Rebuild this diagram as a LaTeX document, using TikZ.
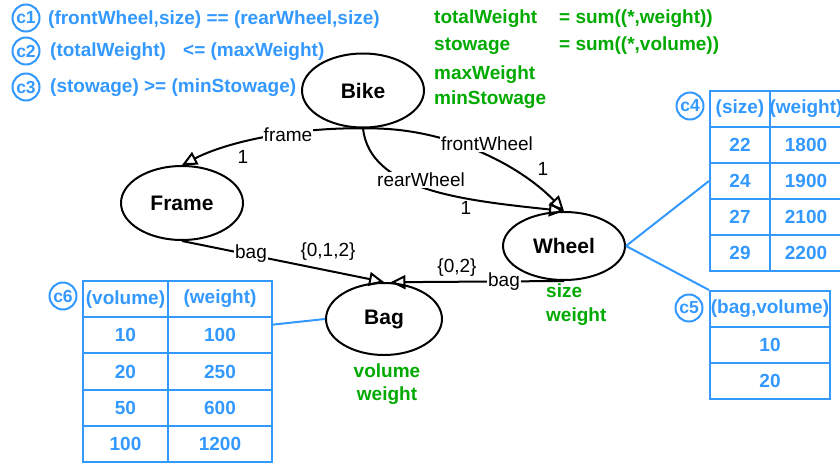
\documentclass[tikz,border=0pt]{standalone}
\usepackage{fontspec}
\setmainfont{Liberation Sans}
\usetikzlibrary{shapes.geometric,arrows.meta,calc}
\definecolor{cblue}{RGB}{51,153,255}
\definecolor{cgreen}{RGB}{0,170,0}
\begin{document}
\begin{tikzpicture}[x=1pt,y=-1pt,
 ent/.style={ellipse,draw,line width=2pt,inner sep=0pt,font=\fontsize{21}{24}\selectfont\bfseries},
 rel/.style={line width=2pt,-{Triangle[open,length=15pt,width=14pt]}},
 lbl/.style={fill=white,inner sep=1pt,font=\fontsize{19}{22}\selectfont},
 mult/.style={inner sep=0pt,font=\fontsize{19}{22}\selectfont},
 grn/.style={text=cgreen,inner sep=0pt,font=\fontsize{19}{22}\selectfont\bfseries},
 blu/.style={text=cblue,inner sep=0pt,font=\fontsize{19}{22}\selectfont\bfseries},
 tag/.style={circle,draw=cblue,line width=2pt,text=cblue,minimum size=27pt,inner sep=0pt,font=\fontsize{17.5}{19}\selectfont\bfseries},
 cell/.style={draw=cblue,line width=2pt,text=cblue,inner sep=0pt,font=\fontsize{19}{22}\selectfont\bfseries},
 link/.style={draw=cblue,line width=2pt}
]
\useasboundingbox[fill=white] (0,0) rectangle (840,466);

% entities
\node[ent,minimum width=122pt,minimum height=74pt] (bike) at (363,90.5) {Bike};
\node[ent,minimum width=122pt,minimum height=74pt] (frame) at (182,203) {Frame};
\node[ent,minimum width=122pt,minimum height=68pt] (wheel) at (564,246) {Wheel};
\node[ent,minimum width=116pt,minimum height=72pt] (bag) at (384,319) {Bag};

% relations
\draw[rel] (bike.south) .. controls (310,127) and (235,138) .. (frame.north);
\draw[rel] (bike.south) .. controls (445,126) and (520,165) .. (wheel.north);
\draw[rel] (bike.south) .. controls (370,190) and (460,200) .. (wheel.north);
\draw[rel] (frame.south) -- (bag.north);
\draw[rel] (wheel.south) -- (bag.80);

% relation labels
\node[lbl] (lframe) at (288,135) {frame};
\node[mult] (mframe) at (243,157) {1};
\node[lbl] (lfront) at (487,144) {frontWheel};
\node[mult] (mfront) at (543,169) {1};
\node[lbl] (lrear) at (421,180) {rearWheel};
\node[mult] (mrear) at (466,208) {1};
\node[lbl] (lbagf) at (251,254) {bag};
\node[mult] (mbagf) at (328,252) {\{0,1,2\}};
\node[lbl] (lbagw) at (504,282) {bag};
\node[mult] (mbagw) at (457,268) {\{0,2\}};

% attributes
\node[grn,anchor=base west] (tw) at (434,23.5) {totalWeight};
\node[grn,anchor=base west] (twf) at (559,23.5) {= sum((*,weight))};
\node[grn,anchor=base west] (st) at (434,50.5) {stowage};
\node[grn,anchor=base west] (stf) at (559,50.5) {= sum((*,volume))};
\node[grn,anchor=base west] (mw) at (434,79.5) {maxWeight};
\node[grn,anchor=base west] (ms) at (434,104.5) {minStowage};
\node[grn,anchor=base west] (wsize) at (546,297) {size};
\node[grn,anchor=base west] (wweight) at (546,321.5) {weight};
\node[grn,anchor=base] (bvol) at (387,377.5) {volume};
\node[grn,anchor=base] (bweight) at (387,400.5) {weight};

% constraints
\node[tag] (c1) at (26,18) {c1};
\node[tag] (c2) at (26,51) {c2};
\node[tag] (c3) at (26,87) {c3};
\node[blu,anchor=base west] (t1) at (48,24.5) {(frontWheel,size) == (rearWheel,size)};
\node[blu,anchor=base west] (t2a) at (50,56.5) {(totalWeight)};
\node[blu,anchor=base west] (t2b) at (183,56.5) {<= (maxWeight)};
\node[blu,anchor=base west] (t3) at (50,92.5) {(stowage) >= (minStowage)};

% table c4
\node[tag] (c4) at (690,106) {c4};
\foreach \r/\a/\b/\y in {0/(size)/(weight)/109,1/22/1800/145,2/24/1900/181,3/27/2100/217,4/29/2200/253}{
  \node[cell,minimum width=60pt,minimum height=36pt] (c4r\r a) at (740,\y) {\a};
  \node[cell,minimum width=72pt,minimum height=36pt] (c4r\r b) at (806,\y) {\b};
}
% table c5
\node[tag] (c5) at (689,308) {c5};
\node[cell,minimum width=120pt,minimum height=36pt] (c5r0) at (770,309) {(bag,volume)};
\node[cell,minimum width=120pt,minimum height=36pt] (c5r1) at (770,345) {10};
\node[cell,minimum width=120pt,minimum height=36pt] (c5r2) at (770,381) {20};
% table c6
\node[tag] (c6) at (63,296) {c6};
\foreach \r/\a/\b/\y in {0/(volume)/(weight)/299.1,1/10/100/335.3,2/20/250/371.5,3/50/600/407.7,4/100/1200/443.9}{
  \node[cell,minimum width=85pt,minimum height=36.2pt] (c6r\r a) at (125.5,\y) {\a};
  \node[cell,minimum width=104pt,minimum height=36.2pt] (c6r\r b) at (220,\y) {\b};
}

% links
\draw[link] (wheel.east) -- (c4r2a.west);
\draw[link] (wheel.east) -- (c5r0.north west);
\coordinate (c6link) at ($(c6r1b.north east)!0.22!(c6r1b.south east)$);
\draw[link] (c6link) -- (bag.west);
\end{tikzpicture}
\end{document}
